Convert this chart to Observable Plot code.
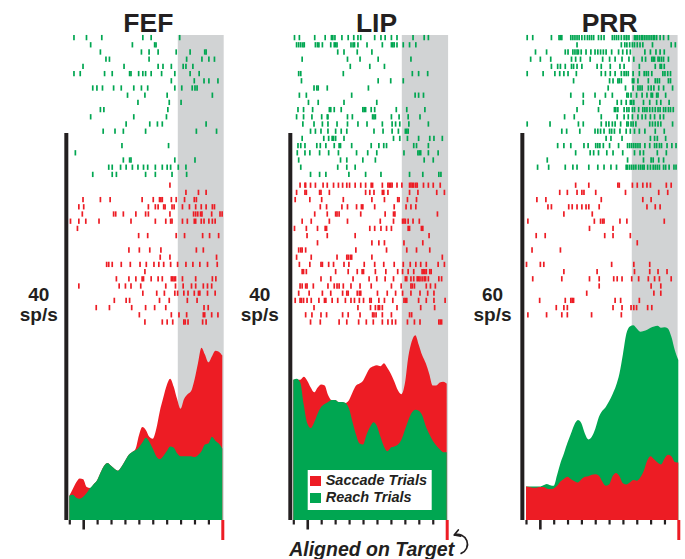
<!DOCTYPE html>
<html><head><meta charset="utf-8">
<script src="https://cdn.jsdelivr.net/npm/d3@7"></script>
<script src="https://cdn.jsdelivr.net/npm/@observablehq/plot@0.6"></script>
<style>
html,body{margin:0;padding:0;background:#fff;}
#chart{position:relative;width:685px;height:559px;overflow:hidden;background:#fff;}
#chart svg{position:absolute;left:0;top:0;overflow:visible;}
</style></head>
<body><div id="chart"></div>
<script>
// ---------- DATA ----------
const panelTitles = ["FEF", "LIP", "PRR"];
const scaleBarValues = [40, 40, 60];           // sp/s represented by the vertical bar
const unitLabel = "sp/s";
const legendLabels = ["Saccade Trials", "Reach Trials"];
const alignLabel = "Aligned on Target";
const tickTimes = [-1100,-1000,-900,-800,-700,-600,-500,-400,-300,-200,-100,0]; // ms
const grayWindows = [[-320, 10], [-322, 10], [-336, -5]];                       // ms

const timesMs = [-1100,-1075,-1050,-1025,-1000,-975,-950,-925,-900,-875,-850,-825,-800,-775,-750,-725,-700,-675,-650,-625,-600,-575,-550,-525,-500,-475,-450,-425,-400,-375,-350,-325,-300,-275,-250,-225,-200,-175,-150,-125,-100,-75,-50,-25,0];

const fefReachRate = [2.5,2.6,2.3,2.2,2.4,2.8,3.3,3.7,4.1,4.9,5.6,5.9,5.6,5.3,5.1,5.5,6.1,6.7,7.0,7.2,7.5,8.0,8.5,8.1,7.4,6.6,6.3,6.6,7.1,7.6,7.5,6.9,6.6,6.6,6.6,6.6,6.5,6.7,7.1,7.8,7.9,8.6,8.2,7.9,7.4];
const fefSaccadeRate = [2.5,3.2,3.9,4.3,4.2,3.4,3.3,3.7,4.1,4.9,5.6,5.9,5.6,5.3,5.1,5.5,6.1,6.7,7.0,7.3,8.7,9.6,9.3,8.6,8.4,9.4,11.2,12.6,13.9,14.6,13.8,12.5,11.5,12.5,13.0,13.3,14.5,16.2,17.8,17.1,16.3,16.9,17.5,17.4,17.0];
const lipReachRate = [14.5,14.6,14.2,11.9,10.0,9.5,10.1,11.0,11.7,12.0,12.2,12.4,12.4,12.2,12.2,12.1,11.5,10.1,8.8,7.9,7.8,8.8,9.6,10.1,9.7,8.6,7.6,7.1,7.5,7.6,7.8,8.3,9.3,10.3,11.1,11.4,11.3,10.8,9.7,8.9,8.2,7.7,7.3,7.0,7.0];
const lipSaccadeRate = [14.5,14.5,14.5,14.8,14.4,13.7,13.2,13.7,14.0,13.9,12.9,12.4,12.4,12.2,12.2,12.1,12.4,13.2,13.9,14.1,14.4,15.1,15.7,15.9,16.0,15.9,16.2,15.7,15.1,14.3,13.4,13.0,14.1,16.9,18.5,19.1,18.1,17.0,16.2,15.1,13.9,13.9,14.2,14.3,14.1];
const prrReachRate = [5.2,5.2,5.2,5.2,5.2,5.4,5.6,5.4,5.3,7.0,8.9,10.4,12.0,13.4,14.8,15.5,15.0,13.4,12.5,12.9,14.1,15.9,16.9,17.5,18.4,19.5,20.8,22.7,25.7,28.9,30.0,30.2,29.7,29.2,29.3,29.5,29.8,30.0,30.1,29.8,29.9,29.7,28.4,26.3,24.8];
const prrSaccadeRate = [5.2,5.1,5.0,5.0,5.1,5.1,4.9,4.8,4.9,5.3,6.0,6.4,6.7,6.3,6.0,5.8,6.3,6.7,6.8,7.0,7.1,6.9,6.0,5.3,5.5,6.8,7.3,6.8,5.7,5.5,5.8,6.2,6.1,6.6,7.6,9.2,9.9,9.4,8.9,8.6,9.5,10.1,9.9,9.0,8.9];

// spike times (ms before target), one array per trial
const fefReach = [
[-1070,-980,-870,-575,-515,-310],
[-950,-650,-490,-480],
[-880,-585,-530,-465,-335,-235,-130,-120],
[-840,-815,-530,-260,-150,-100,-60],
[-1005,-710,-465,-430,-370,-285,-265,-215],
[-1070,-1025,-850,-795,-670,-660,-605,-575,-555,-515,-440,-345,-235,-170],
[-370,-205,-135,-100,-35],
[-935,-905,-865,-785,-730,-640,-585,-540,-345,-295,-220,-200,-185],
[-685,-560,-400,-75],
[-610,-385,-300],
[-880,-855,-395],
[-950,-640,-405],
[-695,-525,-470,-435,-120],
[-860,-775,-715,-555,-190,-45],
[],
[-725,-390],
[-1060],
[-715,-670,-660,-345,-200],
[-820,-795,-735,-695,-650,-610,-570,-540,-485,-435,-400,-375,-320,-265],
[-935,-795,-765,-555,-485,-365,-260]];
const fefSaccade = [
[-380],
[-265,-175,-120],
[-1005,-880,-810,-580,-500,-455,-445,-435,-370,-335,-275,-205,-190],
[-1035,-1000,-535,-485,-465,-425,-415,-365,-350,-290,-240,-195,-155,-120,-75,-60],
[-1010,-785,-770,-715,-625,-555,-535,-380,-210,-195,-180,-160,-150,-80,-20,-5],
[-1095,-1035,-985,-890,-660,-485,-410,-375,-365,-290,-255,-205,-195,-155,-135,-100,-75,-55],
[-1045],
[-605,-540,-335,-275,-145,-95,-30],
[],
[-675,-600,-525,-445,-190,-140],
[-450,-380,-45],
[-835,-820,-795,-730,-665,-595,-550,-495,-460,-425,-375,-325,-265,-215,-165,-110,-40],
[-560],
[-765,-675,-625,-580,-570,-515,-465,-435,-370,-360,-350,-340,-290,-195,-75,-50],
[-1035,-745,-700,-660,-590,-410,-340,-285,-225,-195,-140,-110,-80],
[-575,-475,-420,-345,-325,-280,-250,-205,-175,-165,-110,-55],
[-780,-695,-670,-455,-385,-255,-185],
[-910,-815,-655,-555,-490,-410,-135,-105],
[-600,-370,-315,-260,-140,-130,-80,-35],
[-560,-435,-400,-360,-280,-270,-250,-145,-120]];
const lipReach = [
[-1095,-1060,-950,-875,-830,-820,-805,-755,-710,-670,-640,-620,-520,-475,-445,-400,-360,-245,-165,-135],
[-1080,-1065,-1050,-1035,-1025,-945,-930,-920,-895,-835,-810,-800,-790,-690,-675,-665,-640,-575,-465,-400,-390,-380,-360,-315,-270,-225],
[-785,-740,-645,-540],
[-1040,-715,-625,-495,-260],
[-695,-555,-450],
[-1065,-1050,-745,-250,-205,-140],
[-1045,-495,-405,-315],
[-955,-935,-925,-860,-565],
[-1060,-1010,-685,-230,-205,-170],
[-995,-925,-740,-505],
[-1070,-1030,-965,-845,-835,-810,-760,-605,-595,-585,-545,-520,-365,-290,-160],
[-1080,-1030,-970,-900,-860,-855,-715,-680,-535,-525,-515,-400,-345,-280,-195],
[-1035,-955,-895,-855,-790,-715,-640,-575,-465,-395,-370,-340,-275,-135],
[-980,-945,-905,-855,-800,-760,-720,-525,-460,-395,-350,-300,-290,-280],
[-1040,-885,-850,-825,-815,-800,-740,-385,-340,-285,-205,-125,-95,-35],
[-1070,-1050,-1020,-935,-910,-870,-810,-775,-765,-685,-545,-490,-455,-435,-240,-220,-135],
[-1075,-1020,-985,-915,-850,-780,-650,-570,-505,-310,-210,-200,-190,-135,-65],
[-1065,-765,-720,-605,-515,-165,-100],
[-1050,-785,-720,-660],
[-980,-915,-870,-705,-585,-475,-270,-175,-60,-45]];
const lipSaccade = [
[-1055,-1020,-1015,-980,-945,-890,-860,-815,-780,-750,-720,-700,-660,-620,-585,-545,-535,-465,-425,-415,-405,-395,-360,-325,-270,-260,-250,-240,-225,-215,-170,-135,-100,-50],
[-1080,-1020,-1010,-915,-905,-845,-585,-555,-525,-465,-455,-425,-270,-210,-75,-20],
[-1090,-985,-900,-745,-540,-450,-355,-345,-285,-220],
[-910,-865,-755,-715,-650,-615,-605,-520,-380,-295,-260,-225],
[-950,-860,-800,-790,-775,-620,-445,-385,-375,-70],
[-1040,-975,-845,-715,-480,-385,-320,-310,-300,-280,-245,-200],
[-1095,-1010,-930,-875,-865,-555,-520,-475,-435,-400,-280,-270,-185,-175],
[-1005,-860,-660,-130],
[-930,-540,-490,-450,-310,-175],
[-1065,-1050,-1040,-1015,-655,-435,-290,-220,-125],
[-1080,-975,-790,-720,-710,-695,-685,-540,-35],
[-1060,-985,-905,-895,-850,-815,-740,-705,-595,-520,-455,-380,-315,-265,-225,-190,-150,-65,-20],
[-1040,-1030,-1010,-800,-710,-645,-610,-600,-515,-440,-355,-320,-280,-240,-180,-170,-160,-150,-125,-115],
[-905,-835,-675,-560,-505,-445,-385,-300,-290,-260,-240,-215,-205,-195,-180,-165,-155,-135,-60,-40],
[-1055,-1040,-1015,-1005,-960,-855,-810,-790,-775,-745,-690,-625,-545,-400,-330,-260,-250,-235,-150,-120,-85],
[-1065,-990,-895,-835,-750,-720,-710,-645,-630,-620,-500,-430,-370,-320,-260,-195,-140,-95],
[-1090,-1055,-1045,-1030,-1005,-975,-920,-880,-870,-825,-785,-730,-690,-665,-630,-600,-555,-545,-490,-450,-390,-310,-300,-290,-205,-150,-95,-15],
[-955,-640,-550,-515,-495,-485,-465,-360,-190,-90],
[-1015,-970,-905,-865,-750,-710,-625,-535,-525,-510,-465,-400,-270,-255],
[-980,-910,-775,-720,-635,-580,-530,-465,-425,-395,-370,-285,-235,-195,-60,-50,-40]];
const prrReach = [
[-1095,-1055,-920,-865,-855,-845,-780,-765,-750,-735,-720,-700,-680,-660,-645,-630,-615,-580,-560,-540,-480,-465,-450,-435,-415,-395,-380,-375,-360,-320,-310,-300,-285,-270,-260,-245,-230,-215,-200,-185,-175,-160,-135,-110,-75],
[-735,-415,-390,-375,-355,-335,-320,-300,-280,-260,-190,-55,-25],
[-1035,-955,-820,-800,-765,-750,-735,-725,-705,-670,-635,-605,-585,-565,-545,-525,-485,-435,-405,-375,-350,-245,-205,-165,-135,-105],
[-1070,-1000,-925,-775,-745,-710,-640,-550,-500,-460,-410,-360,-325,-265,-240,-195,-185,-175,-150,-140,-125,-110,-75],
[-920,-875,-855,-820,-775,-760,-735,-700,-590,-560,-495,-425,-395,-285,-170,-135,-125,-105],
[-1095,-980,-895,-860,-830,-800,-740,-560,-530,-495,-460,-415,-395,-380,-365,-330,-285,-250,-235,-220,-195,-115,-100,-80,-60],
[-760,-500,-475,-440,-430,-415,-335,-325,-295,-220,-170,-155,-140,-75,-60],
[-510,-385,-330,-295,-280,-265,-220,-200,-180,-145,-110,-45],
[-780,-690,-605,-530,-480,-375,-365,-345,-305,-265,-230,-200,-190,-160,-150,-95],
[-690,-570,-445,-415,-380,-350,-340,-325,-255,-210,-160,-130,-70],
[-735,-580,-465,-455,-440,-395,-375,-360,-335,-320,-290,-260,-245,-230,-210,-190,-170,-150,-135,-110,-95,-75,-60,-40],
[-825,-755,-560,-445,-395,-365,-335,-295,-265,-240,-205,-175,-135,-110],
[-1095,-930,-725,-690,-560,-525,-505,-480,-460,-420,-375,-365,-345,-330,-310,-210,-190,-170,-150,-130,-45],
[-845,-810,-715,-605,-585,-565,-540,-500,-485,-465,-425,-380,-350,-320,-285,-245,-170,-105],
[-525,-490,-410,-205,-175,-155,-95],
[-875,-830,-780,-685,-655,-600,-585,-570,-545,-500,-435,-370,-355,-340,-325,-310,-295,-280,-245,-210,-175,-160,-140,-125,-85,-50,-20],
[-745,-640,-615,-580,-520,-475,-405,-320,-280,-255,-155,-90],
[-950,-370,-255,-200,-185,-145,-110],
[-1020,-940,-820,-765,-735,-650,-585,-540,-490,-450,-380,-370,-355,-340,-325,-310,-290,-275,-260,-250,-225,-205,-185,-170,-155,-140,-110,-95,-70,-35,-20]];
const prrSaccade = [
[-745,-650,-440,-430,-335,-300,-260,-230,-205,-90,-55],
[-860,-805,-735,-700,-685,-600,-385,-145,-80],
[-1025,-960,-560,-260,-200],
[-945,-920,-795,-770,-735,-700,-670,-650,-575,-230,-170,-135],
[-830,-625],
[-1090,-610,-565,-550,-540,-425,-375,-105],
[-645,-475],
[-1030,-965,-535,-475,-350],
[-300],
[-1060,-855],
[],
[-1100,-1000,-975,-485,-325,-210],
[-830,-590,-320,-210,-150,-85],
[-1055,-845,-645,-575,-470,-445,-410,-340,-290,-220,-175,-140,-55],
[-575,-200,-130],
[-665,-180,-130],
[-1005,-820,-780,-770,-760,-460,-420,-285],
[-885,-830,-805,-475,-410,-345,-325,-305,-225,-195],
[-1090,-955,-845,-805,-630,-415]];

// ---------- STYLE / LAYOUT ----------
const INK = "#231f20", RED = "#ed1c24", GREEN = "#00a651", GRAY = "#d1d3d4";
const FONT = "'Liberation Sans', Arial, Helvetica, sans-serif";
const W = 685, H = 559;
const layout = [
  {x0: 69.3, x1: 222.3, barT: -1125, titleDx: 2, labelDx: -31, front: "reach"},
  {x0: 293.3, x1: 446.7, barT: -1125, titleDx: 6, labelDx: -34, front: "reach"},
  {x0: 526, x1: 678.3, barT: -1130, titleDx: 7, labelDx: -34, front: "saccade"}
];
const panels = [
  {reach: fefReach, saccade: fefSaccade, reachRate: fefReachRate, saccadeRate: fefSaccadeRate},
  {reach: lipReach, saccade: lipSaccade, reachRate: lipReachRate, saccadeRate: lipSaccadeRate},
  {reach: prrReach, saccade: prrSaccade, reachRate: prrReachRate, saccadeRate: prrSaccadeRate}
];

const chart = document.getElementById("chart");
const spikes = (trials, offset) => trials.flatMap((ts, i) => ts.map(t => ({t, row: offset + i})));
const series = rate => timesMs.map((t, i) => ({t, v: rate[i]}));
const noText = () => "";

panels.forEach((p, k) => {
  const L = layout[k];
  const bar = scaleBarValues[k];
  const gw = grayWindows[k];
  const redArea = Plot.areaY(series(p.saccadeRate), {x: "t", y: "v", fill: RED, curve: "monotone-x"});
  const greenArea = Plot.areaY(series(p.reachRate), {x: "t", y: "v", fill: GREEN, curve: "monotone-x"});
  const areas = L.front === "reach" ? [redArea, greenArea] : [greenArea, redArea];
  const extra = [];
  if (k === 1) {
    extra.push(Plot.text([alignLabel], {x: () => 0, frameAnchor: "bottom", textAnchor: "end", lineAnchor: "bottom",
      dx: 7, dy: 35.5, fontSize: 19.5, fontWeight: "bold", fontStyle: "italic", fontFamily: FONT, fill: INK}));
    extra.push(Plot.arrow([{x1: 100, y1: -3.4, x2: 50, y2: -1.5}], {x1: "x1", y1: "y1", x2: "x2", y2: "y2",
      bend: -125, headLength: 7, strokeWidth: 1.7, stroke: INK}));
  }
  const density = Plot.plot({
    width: W, height: H, marginLeft: L.x0, marginRight: W - L.x1, marginTop: 35, marginBottom: H - 520,
    style: {background: "transparent", overflow: "visible"},
    x: {domain: [-1100, 0], range: [L.x0, L.x1], axis: null, label: null},
    y: {domain: [0, bar], range: [520, 133], axis: null, label: null},
    marks: [
      Plot.rect([gw], {x1: d => d[0], x2: d => d[1], fill: GRAY}),
      ...areas,
      Plot.ruleX([bar], {x: () => L.barT, y1: 0, y2: d => d, stroke: INK, strokeWidth: 4}),
      Plot.axisX({ticks: tickTimes.filter(t => t !== -1000 && t !== 0), tickSize: 4.5, tickFormat: noText, label: null, stroke: INK, strokeWidth: 2.2}),
      Plot.axisX({ticks: [-1000], tickSize: 9.5, tickFormat: noText, label: null, stroke: INK, strokeWidth: 2.6}),
      Plot.axisX({ticks: [0], tickSize: 20, tickFormat: noText, label: null, stroke: RED, strokeWidth: 3}),
      Plot.text([panelTitles[k]], {frameAnchor: "top", lineAnchor: "bottom", dx: L.titleDx, dy: -3.3,
        fontSize: 26.5, fontWeight: "bold", fontFamily: FONT, fill: INK}),
      Plot.text([String(bar)], {frameAnchor: "left", textAnchor: "middle", lineAnchor: "bottom", dx: L.labelDx, dy: 22.5,
        fontSize: 19, fontWeight: "bold", fontFamily: FONT, fill: INK}),
      Plot.text([unitLabel], {frameAnchor: "left", textAnchor: "middle", lineAnchor: "bottom", dx: L.labelDx, dy: 42.5,
        fontSize: 19, fontWeight: "bold", fontFamily: FONT, fill: INK}),
      ...extra
    ]
  });
  chart.appendChild(density);

  const raster = Plot.plot({
    width: W, height: H, marginLeft: L.x0, marginRight: W - L.x1, marginTop: 0, marginBottom: 0,
    style: {background: "transparent", overflow: "visible"},
    x: {domain: [-1100, 0], range: [L.x0, L.x1], axis: null, label: null},
    y: {domain: [0, 20], range: [37.6, 181.6], axis: null, label: null},
    marks: [
      Plot.ruleX(spikes(p.reach, 0), {x: "t", y1: d => d.row - 0.37, y2: d => d.row + 0.37, stroke: GREEN, strokeWidth: 1.7}),
      Plot.ruleX(spikes(p.saccade, 20.5), {x: "t", y1: d => d.row - 0.37, y2: d => d.row + 0.37, stroke: RED, strokeWidth: 1.7})
    ]
  });
  chart.appendChild(raster);
});

// legend (inside LIP panel)
const lg = d3.select(chart).append("svg").attr("width", W).attr("height", H).style("overflow", "visible");
lg.append("rect").attr("x", 307.7).attr("y", 470).attr("width", 124).attr("height", 40).attr("fill", "#fff");
[RED, GREEN].forEach((c, i) => {
  lg.append("rect").attr("x", 310).attr("y", 476 + i * 17).attr("width", 11).attr("height", 10).attr("fill", c);
  lg.append("text").attr("x", 325.7).attr("y", 485 + i * 16.7).text(legendLabels[i])
    .attr("font-family", FONT).attr("font-size", 14.5).attr("font-weight", "bold").attr("font-style", "italic").attr("fill", INK);
});
</script></body></html>
